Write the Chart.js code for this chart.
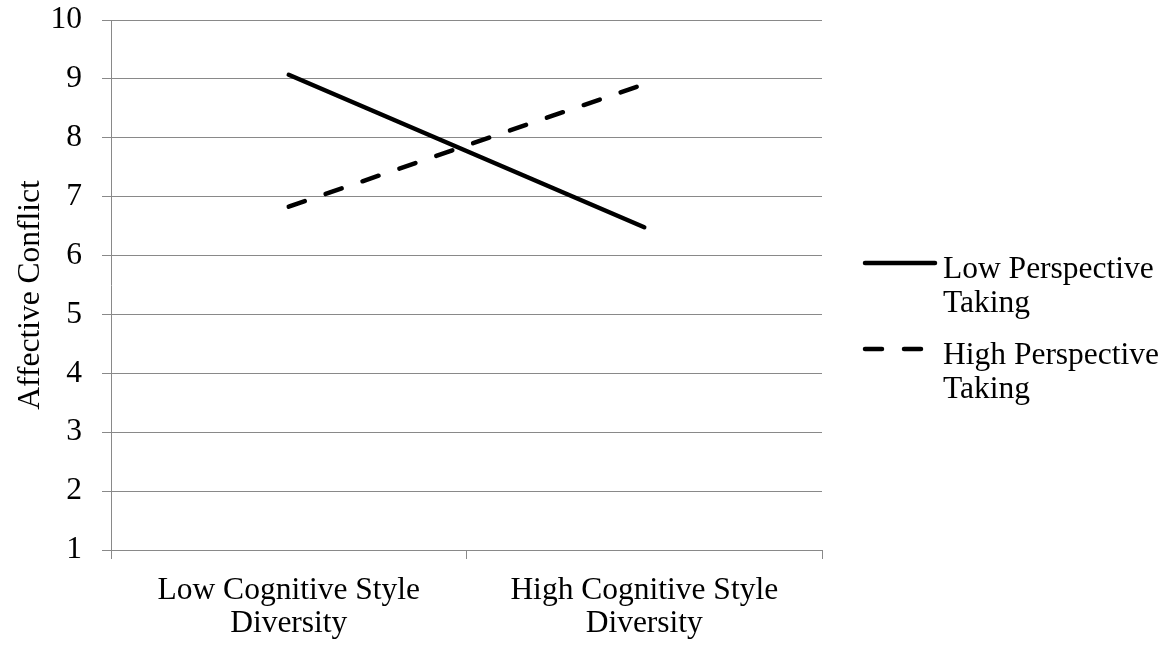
<!DOCTYPE html>
<html>
<head>
<meta charset="utf-8">
<script src="https://cdn.jsdelivr.net/npm/chart.js@4.4.1/dist/chart.umd.min.js"></script>
<style>
html,body{margin:0;padding:0;background:#fff;}
#c{display:block;}
</style>
</head>
<body>
<canvas id="c" width="1167" height="647"></canvas>
<script>
const categories = [['Low Cognitive Style','Diversity'], ['High Cognitive Style','Diversity']];
const lowPerspectiveTaking = [9.07, 6.48];
const highPerspectiveTaking = [6.83, 8.91];
const seriesLabels = [['Low Perspective','Taking'], ['High Perspective','Taking']];
const yTitle = 'Affective Conflict';
const yMin = 1, yMax = 10, yStep = 1;

const FONT = 'Liberation Serif, Times New Roman, serif';
const GRID = '#898989';

const legendPlugin = {
  id: 'sideLegend',
  afterDraw(chart) {
    const ctx = chart.ctx;
    const x0 = chart.chartArea.right + 41;
    const rows = [263, 349];
    ctx.save();
    chart.data.datasets.forEach((ds, i) => {
      const y = rows[i];
      ctx.beginPath();
      ctx.strokeStyle = ds.borderColor;
      ctx.lineWidth = ds.borderWidth;
      ctx.lineCap = ds.borderCapStyle || 'butt';
      ctx.setLineDash(ds.borderDash || []);
      ctx.moveTo(x0 + 2, y);
      ctx.lineTo(x0 + 72, y);
      ctx.stroke();
      ctx.setLineDash([]);
      ctx.fillStyle = '#000';
      ctx.font = '31.5px ' + FONT;
      ctx.textBaseline = 'alphabetic';
      ctx.textAlign = 'left';
      const lines = Array.isArray(ds.label) ? ds.label : [ds.label];
      lines.forEach((t, j) => ctx.fillText(t, x0 + 80, y + 15 + j * 34));
    });
    // y-axis title, centred slightly below the plot centre as in the reference
    const ca = chart.chartArea;
    ctx.translate(31, (ca.top + ca.bottom) / 2 + 10);
    ctx.rotate(-Math.PI / 2);
    ctx.textAlign = 'center';
    ctx.textBaseline = 'middle';
    ctx.fillStyle = '#000';
    ctx.font = '31.5px ' + FONT;
    ctx.fillText(yTitle, 0, 0);
    ctx.restore();
  }
};

new Chart(document.getElementById('c'), {
  type: 'line',
  data: {
    labels: categories,
    datasets: [
      {
        label: seriesLabels[0],
        data: lowPerspectiveTaking,
        borderColor: '#000',
        borderWidth: 4.5,
        borderCapStyle: 'round',
        pointRadius: 0,
        tension: 0
      },
      {
        label: seriesLabels[1],
        data: highPerspectiveTaking,
        borderColor: '#000',
        borderWidth: 4.5,
        borderCapStyle: 'round',
        borderDash: [17, 22],
        pointRadius: 0,
        tension: 0
      }
    ]
  },
  options: {
    responsive: false,
    animation: false,
    devicePixelRatio: 1,
    layout: { padding: { top: 20, right: 345, left: 0, bottom: 0 } },
    plugins: { legend: { display: false }, tooltip: { enabled: false } },
    scales: {
      x: {
        offset: true,
        grid: { offset: true, drawOnChartArea: false, drawTicks: true, tickLength: 9, color: GRID, lineWidth: 1 },
        border: { display: true, color: GRID, width: 1 },
        ticks: { color: '#000', font: { family: FONT, size: 31.5, lineHeight: 1.05 }, padding: 15, maxRotation: 0, autoSkip: false },
        afterFit(s) { s.height = 97; s.paddingLeft = 0; s.paddingRight = 0; }
      },
      y: {
        min: yMin, max: yMax,
        grid: { color: GRID, lineWidth: 1, tickLength: 9, drawTicks: true },
        border: { display: true, color: GRID, width: 1 },
        ticks: { stepSize: yStep, color: '#000', font: { family: FONT, size: 31.5 }, padding: 20 },
        title: { display: false, text: yTitle },
        afterFit(s) { s.width = 111; s.paddingTop = 0; s.paddingBottom = 0; }
      }
    }
  },
  plugins: [legendPlugin]
});
</script>
</body>
</html>
